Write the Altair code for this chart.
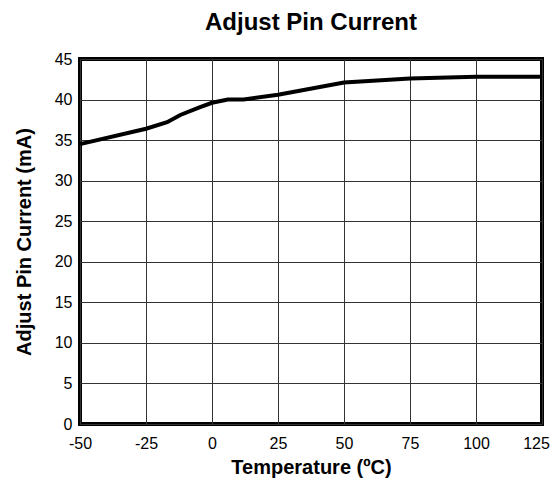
import altair as alt
import pandas as pd

temperature = [-50, -25, -17, -12, -5, 0, 6, 12, 25, 50, 75, 100, 125]
current = [34.5, 36.4, 37.2, 38.1, 39.0, 39.6, 40.0, 40.0, 40.6, 42.1, 42.6, 42.8, 42.8]
x_ticks = [-50, -25, 0, 25, 50, 75, 100, 125]
y_ticks = [0, 5, 10, 15, 20, 25, 30, 35, 40, 45]

df = pd.DataFrame({"t": temperature, "i": current})

font = "Liberation Sans"

chart = alt.Chart(df).mark_line(color="black", strokeWidth=4).encode(
    x=alt.X("t:Q", scale=alt.Scale(domain=[-50, 125], nice=False),
            axis=alt.Axis(values=x_ticks, title="Temperature (ºC)", ticks=False,
                          domain=False, labelPadding=11, titlePadding=6,
                          labelFlush=False, labelExpr="'' + datum.value",
                          labelOffset=alt.condition("datum.value == 125",
                                                    alt.value(-6), alt.value(0)))),
    y=alt.Y("i:Q", scale=alt.Scale(domain=[0, 45], nice=False),
            axis=alt.Axis(values=y_ticks, title="Adjust Pin Current (mA)", ticks=False,
                          domain=False, labelPadding=8, titlePadding=20)),
).properties(
    width=462, height=365,
    title=alt.TitleParams("Adjust Pin Current", fontSize=24, font=font,
                          fontWeight="bold", offset=16, anchor="middle"),
    autosize=alt.AutoSizeParams(type="none"),
    padding={"left": 72, "top": 51, "right": 8, "bottom": 55},
).configure_view(
    stroke="black", strokeWidth=4
).configure_axis(
    grid=True, gridColor="#333333", gridWidth=1, gridOpacity=1,
    labelFont=font, labelFontSize=16, labelColor="black",
    titleFont=font, titleFontSize=20, titleFontWeight="bold", titleColor="black",
)

chart.save("out.html", embed_options={"renderer": "svg", "actions": False})
